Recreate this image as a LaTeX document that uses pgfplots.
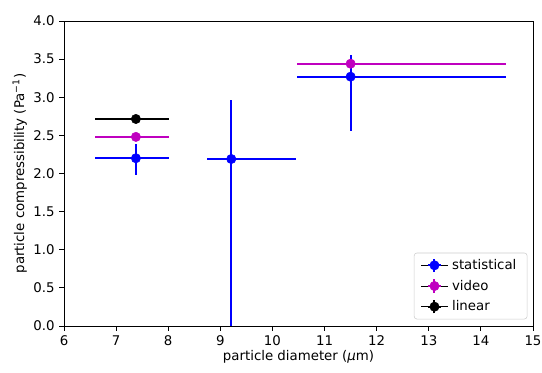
\documentclass[border=0pt]{standalone}
\usepackage{fontspec}
\setmainfont{DejaVu Sans}
\usepackage{pgfplots}
\pgfplotsset{compat=1.18}
\definecolor{mplblue}{rgb}{0,0,1}
\definecolor{mplmag}{rgb}{0.75,0,0.75}
\begin{document}
\begin{tikzpicture}
\begin{axis}[
  at={(0,0)}, anchor=south west,
  scale only axis,
  width=351.75pt, height=228.75pt,
  xmin=6, xmax=15, ymin=0, ymax=4,
  xtick={6,7,...,15},
  ytick={0,0.5,...,4},
  yticklabel style={/pgf/number format/.cd,fixed,fixed zerofill,precision=1},
  /pgf/number format/assume math mode=true,
  tick align=outside, tick pos=left,
  major tick length=3.5pt,
  tick style={black, line width=0.6pt},
  axis line style={line width=0.6pt},
  ticklabel style={font=\fontsize{10}{12}\selectfont},
  label style={font=\fontsize{10}{12}\selectfont},
  xlabel={particle diameter (\textit{μ}m)},
  ylabel={particle compressibility (Pa\textsuperscript{−1})},
  xlabel style={yshift=3pt},
  ylabel style={yshift=-2pt},
  legend style={at={(0.988,0.022)}, anchor=south east, draw=black!20, rounded corners=2pt,
    font=\fontsize{10}{12}\selectfont, row sep=4pt, inner xsep=5pt, inner ysep=3.5pt,
    nodes={inner xsep=3pt, inner ysep=1pt}},
  legend cell align=left,
  clip=true,
]
\addlegendimage{legend image code/.code={
    \path (0pt,0pt) -- (20pt,0pt);
    \draw[line width=1.5pt,mplblue] (5pt,0pt) -- (15pt,0pt);
    \draw[line width=1.5pt,mplblue] (10pt,-5pt) -- (10pt,5pt);
    \fill[mplblue] (10pt,0pt) circle (3.5pt);
  }}
\addlegendentry{statistical}
\addlegendimage{legend image code/.code={
    \path (0pt,0pt) -- (20pt,0pt);
    \draw[line width=1.5pt,mplmag] (5pt,0pt) -- (15pt,0pt);
    \draw[line width=1.5pt,mplmag] (10pt,-5pt) -- (10pt,5pt);
    \fill[mplmag] (10pt,0pt) circle (3.5pt);
  }}
\addlegendentry{video}
\addlegendimage{legend image code/.code={
    \path (0pt,0pt) -- (20pt,0pt);
    \draw[line width=1.5pt,black] (5pt,0pt) -- (15pt,0pt);
    \draw[line width=1.5pt,black] (10pt,-5pt) -- (10pt,5pt);
    \fill[black] (10pt,0pt) circle (3.5pt);
  }}
\addlegendentry{linear}
\addplot+[forget plot, only marks, color=mplblue, mark=*, mark size=3.5pt, mark options={fill=mplblue, draw=mplblue},
  error bars/.cd, x dir=both, x explicit, y dir=both, y explicit,
  error bar style={line width=1.5pt, mplblue}, error mark=none]
  coordinates {
    (7.38,2.20) += (0.63,0.19) -= (0.78,0.22)
    (9.21,2.19) += (1.24,0.78) -= (0.46,2.30)
    (11.50,3.27) += (2.98,0.29) -= (1.03,0.71)
  };
\addplot+[forget plot, only marks, color=mplmag, mark=*, mark size=3.5pt, mark options={fill=mplmag, draw=mplmag},
  error bars/.cd, x dir=both, x explicit, y dir=both, y explicit,
  error bar style={line width=1.5pt, mplmag}, error mark=none]
  coordinates {
    (7.38,2.48) += (0.63,0.03) -= (0.78,0.03)
    (11.50,3.44) += (2.98,0.03) -= (1.03,0.03)
  };
\addplot+[forget plot, only marks, color=black, mark=*, mark size=3.5pt, mark options={fill=black, draw=black},
  error bars/.cd, x dir=both, x explicit, y dir=both, y explicit,
  error bar style={line width=1.5pt, black}, error mark=none]
  coordinates {
    (7.38,2.715) += (0.63,0.02) -= (0.78,0.02)
  };
\node[anchor=south west, font=\fontsize{10}{12}\selectfont, inner sep=0pt, yshift=3pt] at (rel axis cs:0,1) {1e−10};
\end{axis}
\pgfresetboundingbox
\path (-48pt,-35.25pt) rectangle (358.5pt,244.5pt);
\end{tikzpicture}
\end{document}
